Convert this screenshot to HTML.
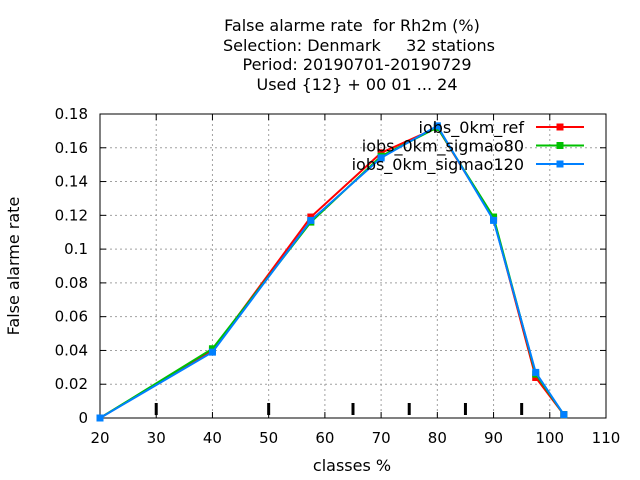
<!DOCTYPE html>
<html><head><meta charset="utf-8"><style>body{margin:0;background:#fff}svg{display:block;font-family:"DejaVu Sans",sans-serif}text{white-space:pre}</style></head>
<body>
<svg id="c" width="640" height="480">
<g font-size="16" text-anchor="middle" fill="#000">
<text x="352" y="31">False alarme rate  for Rh2m (%)</text>
<text x="359" y="51">Selection: Denmark     32 stations</text>
<text x="357" y="70">Period: 20190701-20190729</text>
<text x="357" y="90">Used {12} + 00 01 ... 24</text>
</g>
<text font-size="16" text-anchor="middle" transform="translate(19,266) rotate(-90)">False alarme rate</text>
<text font-size="16" text-anchor="middle" x="352" y="471">classes %</text>
<g id="grid"></g><g id="axes"></g><g id="series"></g><g id="legend"></g>
</svg>
<script>
const xTicks=[20,30,40,50,60,70,80,90,100,110];
const yTicks=[0,0.02,0.04,0.06,0.08,0.1,0.12,0.14,0.16,0.18];
const yTickLabels=["0","0.02","0.04","0.06","0.08","0.1","0.12","0.14","0.16","0.18"];
const classBounds=[30,50,65,75,85,95];
const classes=[20,40,57.5,70,80,90,97.5,102.5];
const refVals=[0,0.040,0.119,0.157,0.172,0.118,0.024,0.002];
const s80Vals=[0,0.041,0.116,0.155,0.172,0.119,0.026,0.002];
const s120Vals=[0,0.039,0.117,0.154,0.173,0.117,0.027,0.002];
const seriesNames=["iobs_0km_ref","iobs_0km_sigmao80","iobs_0km_sigmao120"];
const colors=["#ff0000","#00c000","#0080ff"];
const L=100,R=606,T=114,B=418;
const X=v=>L+(v-20)/90*(R-L);
const Y=v=>B-v/0.18*(B-T);
const NS="http://www.w3.org/2000/svg";
function mk(p,tag,a){const e=document.createElementNS(NS,tag);for(const k in a)e.setAttribute(k,a[k]);p.appendChild(e);return e;}
const grid=document.getElementById('grid'),axes=document.getElementById('axes'),ser=document.getElementById('series'),leg=document.getElementById('legend');
xTicks.forEach(v=>{const x=X(v);
 if(v>20&&v<110){const g=mk(grid,'line',{x1:x,x2:x,y1:T,y2:B,stroke:'#a0a0a0','stroke-dasharray':'2,3'});
 
 }
 mk(axes,'line',{x1:x,x2:x,y1:B,y2:B-6,stroke:'#000'});mk(axes,'line',{x1:x,x2:x,y1:T,y2:T+6,stroke:'#000'});
 const t=mk(axes,'text',{x:x,y:B+25,'font-size':15,'text-anchor':'middle'});t.textContent=v;
 
 });
yTicks.forEach((v,i)=>{const y=Y(v);
 if(v>0&&v<0.18){const g=mk(grid,'line',{x1:L,x2:R,y1:y,y2:y,stroke:'#a0a0a0','stroke-dasharray':'2,3'});
 
 }
 mk(axes,'line',{x1:L,x2:L+6,y1:y,y2:y,stroke:'#000'});mk(axes,'line',{x1:R,x2:R-6,y1:y,y2:y,stroke:'#000'});
 const t=mk(axes,'text',{x:L-12,y:y+5,'font-size':15,'text-anchor':'end'});t.textContent=yTickLabels[i];
 
 });
classBounds.forEach(v=>{const l=mk(axes,'line',{x1:X(v),x2:X(v),y1:B-15,y2:B-3,stroke:'#000','stroke-width':3});
 
 });
const fr=mk(axes,'rect',{x:L,y:T,width:R-L,height:B-T,fill:'none',stroke:'#000'});


[refVals,s80Vals,s120Vals].forEach((vals,si)=>{
 const g=mk(ser,'g',{});
 
 
 mk(g,'polyline',{points:classes.map((c,i)=>X(c)+','+Y(vals[i])).join(' '),fill:'none',stroke:colors[si],'stroke-width':2});
 classes.forEach((c,i)=>{const p=mk(g,'rect',{x:X(c)-3.5,y:Y(vals[i])-3.5,width:7,height:7,fill:colors[si]});
 
 });
 const ly=127+si*18.5;
 const e=mk(leg,'g',{});
 
 
 const t=mk(e,'text',{x:524,y:ly+6,'font-size':16,'text-anchor':'end'});t.textContent=seriesNames[si];
 mk(e,'line',{x1:536,x2:584,y1:ly,y2:ly,stroke:colors[si],'stroke-width':2});
 mk(e,'rect',{x:556.5,y:ly-3.5,width:7,height:7,fill:colors[si]});
});
</script>
</body></html>
